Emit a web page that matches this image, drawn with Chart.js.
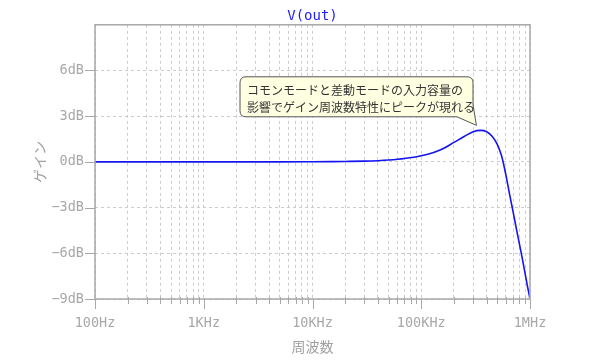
<!DOCTYPE html>
<html>
<head>
<meta charset="utf-8">
<script src="https://cdn.jsdelivr.net/npm/chart.js@4"></script>
<style>
  body { margin: 0; background: #fff; }
</style>
</head>
<body>
<canvas id="graph" width="600" height="361"></canvas>
<script>
// 周波数 (Hz) とゲイン (dB)
const freq = [100, 1000, 5000, 10000, 15000, 20000, 30000, 40000, 50000, 70000,
  100000, 130000, 160000, 200000, 250000, 300000, 350000, 400000, 450000, 500000,
  550000, 600000, 650000, 700000, 750000, 800000, 850000, 900000, 950000, 1000000]
const gain = [0, 0, 0, 0.01, 0.02, 0.03, 0.05, 0.08, 0.12, 0.22,
  0.40, 0.62, 0.88, 1.28, 1.68, 1.98, 2.07, 1.98, 1.67, 1.15,
  0.35, -0.85, -2.15, -3.3, -4.4, -5.4, -6.35, -7.3, -8.2, -9.0]

const xTicks = [100, 1000, 10000, 100000, 1000000]
const xLabels = ['100Hz', '1KHz', '10KHz', '100KHz', '1MHz']
const yTicks = [-9, -6, -3, 0, 3, 6]
const yLabels = ['−9dB', '−6dB', '−3dB', '0dB', '3dB', '6dB']

const note = ['コモンモードと差動モードの入力容量の', '影響でゲイン周波数特性にピークが現れる']

const axisColor = '#a8a8a8'
const gridColor = '#cccccc'
const mono = 'DejaVu Sans Mono'
const jp = 'Noto Sans CJK JP'

// 目盛り線と枠
const frame = {
  id: 'frame',
  afterDraw(chart) {
    const ctx = chart.ctx
    const a = chart.chartArea
    const xs = chart.scales.x, ys = chart.scales.y
    ctx.save()
    ctx.strokeStyle = axisColor
    ctx.lineWidth = 1.5
    ctx.strokeRect(a.left, a.top, a.right - a.left, a.bottom - a.top)
    ctx.lineWidth = 1
    ctx.beginPath()
    xs.ticks.forEach(t => {
      const x = Math.round(xs.getPixelForValue(t.value)) + 0.5
      if (xTicks.includes(t.value)) {
        ctx.moveTo(x, a.bottom)
        ctx.lineTo(x, a.bottom + 10)
      } else {
        ctx.moveTo(x, a.bottom - 2)
        ctx.lineTo(x, a.bottom + 5)
      }
    })
    yTicks.forEach(v => {
      const y = Math.round(ys.getPixelForValue(v)) + 0.5
      ctx.moveTo(a.left - 10, y)
      ctx.lineTo(a.left, y)
    })
    ctx.stroke()
    ctx.restore()
  }
}

// 吹き出し
const callout = {
  id: 'callout',
  afterDatasetsDraw(chart) {
    const ctx = chart.ctx
    const a = chart.chartArea
    const xs = chart.scales.x, ys = chart.scales.y
    let pk = 0
    gain.forEach((g, i) => { if (g > gain[pk]) pk = i })
    const tipX = xs.getPixelForValue(freq[pk]) - 4
    const tipY = ys.getPixelForValue(gain[pk]) - 5
    const l = a.left + 145, t = a.top + 52, r = a.left + 378, b = a.top + 92, rad = 6
    ctx.save()
    ctx.beginPath()
    ctx.moveTo(l + rad, t)
    ctx.lineTo(r - rad, t)
    ctx.quadraticCurveTo(r, t, r, t + rad)
    ctx.lineTo(r, b - 12)
    ctx.lineTo(tipX, tipY)
    ctx.lineTo(r - 16, b)
    ctx.lineTo(l + rad, b)
    ctx.quadraticCurveTo(l, b, l, b - rad)
    ctx.lineTo(l, t + rad)
    ctx.quadraticCurveTo(l, t, l + rad, t)
    ctx.closePath()
    ctx.fillStyle = '#ffffe1'
    ctx.fill()
    ctx.strokeStyle = '#555'
    ctx.lineWidth = 1
    ctx.stroke()
    ctx.fillStyle = '#333'
    ctx.font = '12px "' + jp + '"'
    ctx.textBaseline = 'middle'
    ctx.textAlign = 'left'
    note.forEach((s, i) => ctx.fillText(s, l + 7, t + 14 + i * 17))
    ctx.restore()
  }
}

const data = {
  datasets: [{
    label: 'V(out)',
    data: freq.map((f, i) => ({ x: f, y: gain[i] })),
    borderColor: '#1414f0',
    borderWidth: 1.6,
    pointRadius: 0,
    cubicInterpolationMode: 'monotone',
    fill: false
  }]
}

const config = {
  type: 'line',
  data: data,
  options: {
    responsive: false,
    animation: false,
    devicePixelRatio: 1,
    layout: { padding: { left: 0, right: 70, top: 0, bottom: 0 } },
    plugins: {
      legend: { display: false },
      tooltip: { enabled: false },
      title: {
        display: true,
        fullSize: false,
        text: 'V(out)',
        color: '#2020ff',
        font: { family: mono, size: 14, weight: 'normal' },
        padding: { top: 8, bottom: 0 }
      }
    },
    scales: {
      x: {
        type: 'logarithmic',
        min: 100,
        max: 1000000,
        afterBuildTicks: s => {
          const tk = []
          xTicks.slice(0, -1).forEach(d => { for (let m = 1; m < 10; m++) tk.push({ value: d * m }) })
          tk.push({ value: 1000000 })
          s.ticks = tk
        },
        afterFit: s => { s.height = 62 },
        border: { display: false, dash: [3, 3] },
        grid: { color: gridColor, drawTicks: false, lineWidth: 1 },
        ticks: {
          autoSkip: false,
          maxRotation: 0,
          padding: 16,
          color: axisColor,
          font: { family: mono, size: 13.5 },
          callback: v => { const i = xTicks.indexOf(v); return i >= 0 ? xLabels[i] : '' }
        },
        title: {
          display: true,
          text: '周波数',
          color: '#a0a0a0',
          font: { family: jp, size: 14 },
          padding: { top: 0, bottom: 6 }
        }
      },
      y: {
        min: -9,
        max: 9,
        afterBuildTicks: s => { s.ticks = [-9, -6, -3, 0, 3, 6, 9].map(v => ({ value: v })) },
        afterFit: s => { s.width = 95 },
        border: { display: false, dash: [3, 3] },
        grid: { color: gridColor, drawTicks: false, lineWidth: 1 },
        ticks: {
          padding: 11,
          color: axisColor,
          font: { family: mono, size: 13.5 },
          callback: v => { const i = yTicks.indexOf(v); return i >= 0 ? yLabels[i] : '' }
        },
        title: {
          display: true,
          text: 'ゲイン',
          color: '#a0a0a0',
          font: { family: jp, size: 14 },
          padding: { top: 31, bottom: 0 }
        }
      }
    }
  },
  plugins: [callout, frame]
}

const myChart = new Chart(document.getElementById('graph'), config)
</script>
</body>
</html>
